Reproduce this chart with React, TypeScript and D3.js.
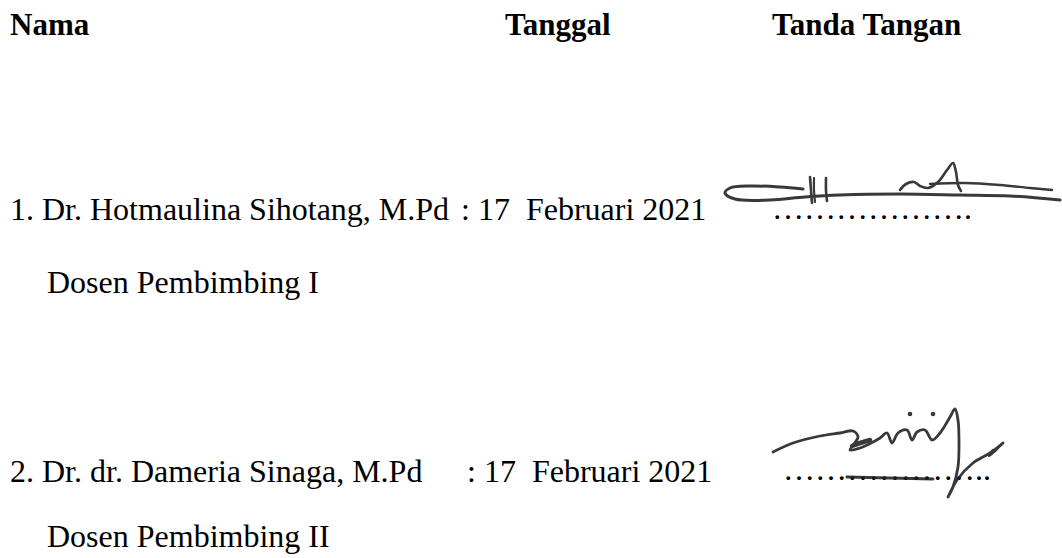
import React from "react";
import * as d3 from "d3";

// ---- content ----
const headers = ["Nama", "Tanggal", "Tanda Tangan"];
const names = ["1. Dr. Hotmaulina Sihotang, M.Pd", "2. Dr. dr. Dameria Sinaga, M.Pd"];
const dates = [": 17  Februari 2021", ": 17  Februari 2021"];
const roles = ["Dosen Pembimbing I", "Dosen Pembimbing II"];
const dotLines = ["……………….", "……………….."];

// ---- signature strokes (local units inside each signature box) ----
type P = [number, number];
const sig1Strokes: P[][] = [
  [[83, 29], [60, 27], [30, 26], [10, 28], [5, 33], [15, 39], [50, 40], [85, 37], [120, 35], [180, 34], [240, 35], [290, 36], [340, 40]],
  [[90, 17], [91, 30], [92, 43]],
  [[94, 18], [94, 30], [95, 42]],
  [[106, 18], [106, 30], [107, 41]],
  [[180, 30], [186, 24], [194, 22], [200, 26], [208, 28], [218, 22], [227, 10], [233, 3], [236, 12], [238, 25], [241, 31]],
  [[210, 24], [245, 23], [280, 25], [310, 28], [332, 30]],
];
const sig1Widths = [3, 2.6, 2.2, 2.6, 2.6, 2.4];
const sig2Strokes: P[][] = [
  [[13, 52], [33, 43], [60, 36], [80, 33], [93, 31], [98, 37], [90, 50], [100, 48], [113, 42], [120, 38], [127, 33], [132, 43], [138, 33], [147, 30], [152, 40], [157, 32], [165, 30], [172, 40], [180, 33], [190, 17], [195, 9], [198, 20], [199, 43], [198, 67], [193, 87], [188, 97], [197, 80], [213, 63], [230, 53], [243, 43]],
  [[243, 43], [236, 50], [229, 56], [233, 50]],
  [[92, 46], [100, 43], [110, 40]],
  [[87, 77], [173, 79]],
];
const sig2Widths = [2.8, 2.4, 4.5, 3];
const sig2Dots: P[] = [[150, 14], [173, 14]];

// ---- layout ----
const W = 1062;
const H = 558;
const FONT = "'Liberation Serif', 'Times New Roman', Times, serif";
const headerX = [10, 505, 772];
const headerY = 35;
const rowY = [220, 482];
const roleY = [293, 547];
const dateX = [461, 467];
const dotX = [772, 783];
const dotY = [219, 480];

function Signature({ strokes, widths, dots, x0, y0, w, h }: { strokes: P[][]; widths: number[]; dots?: P[]; x0: number; y0: number; w: number; h: number }) {
  const sx = d3.scaleLinear().domain([0, w]).range([x0, x0 + w]);
  const sy = d3.scaleLinear().domain([0, h]).range([y0, y0 + h]);
  const line = d3
    .line<P>()
    .x((d) => sx(d[0]))
    .y((d) => sy(d[1]))
    .curve(d3.curveCatmullRom.alpha(0.5));
  return (
    <g fill="none" stroke="#1e1e1e" strokeLinecap="round" strokeLinejoin="round" opacity={0.88}>
      {strokes.map((s, i) => (
        <path key={i} d={line(s) || ""} strokeWidth={widths[i]} />
      ))}
      {(dots || []).map((d, i) => (
        <circle key={"d" + i} cx={sx(d[0])} cy={sy(d[1])} r={2.3} fill="#1e1e1e" stroke="none" />
      ))}
    </g>
  );
}

export default function App() {
  return (
    <svg width={W} height={H} style={{ position: "absolute", left: 0, top: 0, background: "#fff" }}>
      <rect width={W} height={H} fill="#fff" />
      <g fontFamily={FONT} fill="#000">
        {headers.map((t, i) => (
          <text key={t} x={headerX[i]} y={headerY} fontSize={31} fontWeight="bold">
            {t}
          </text>
        ))}
        {names.map((t, i) => (
          <text key={t} x={10} y={rowY[i]} fontSize={32} style={{ whiteSpace: "pre" }}>
            {t}
          </text>
        ))}
        {dates.map((t, i) => (
          <text key={"dt" + i} x={dateX[i]} y={rowY[i]} fontSize={32} style={{ whiteSpace: "pre" }}>
            {t}
          </text>
        ))}
        {roles.map((t, i) => (
          <text key={t} x={47} y={roleY[i]} fontSize={32}>
            {t}
          </text>
        ))}
        {dotLines.map((t, i) => (
          <text key={"dl" + i} x={dotX[i]} y={dotY[i]} fontSize={32}>
            {t}
          </text>
        ))}
      </g>
      <Signature strokes={sig1Strokes} widths={sig1Widths} x0={720} y0={160} w={342} h={45} />
      <Signature strokes={sig2Strokes} widths={sig2Widths} dots={sig2Dots} x0={760} y0={400} w={250} h={100} />
    </svg>
  );
}
